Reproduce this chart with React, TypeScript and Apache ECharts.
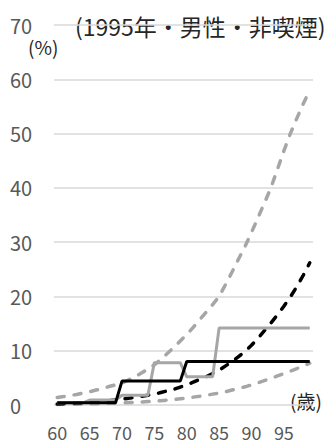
import React, { useEffect, useRef } from "react";
import * as echarts from "echarts";

// Ages 60–99 on the category axis
const ages: string[] = [
  "60", "61", "62", "63", "64", "65", "66", "67", "68", "69",
  "70", "71", "72", "73", "74", "75", "76", "77", "78", "79",
  "80", "81", "82", "83", "84", "85", "86", "87", "88", "89",
  "90", "91", "92", "93", "94", "95", "96", "97", "98", "99",
];

// Step series (%)
const blackStep: number[] = [
  0.4, 0.4, 0.4, 0.4, 0.4, 0.4, 0.4, 0.4, 0.4, 0.4,
  4.4, 4.4, 4.4, 4.4, 4.4, 4.4, 4.4, 4.4, 4.4, 4.4,
  8.0, 8.0, 8.0, 8.0, 8.0, 8.0, 8.0, 8.0, 8.0, 8.0,
  8.0, 8.0, 8.0, 8.0, 8.0, 8.0, 8.0, 8.0, 8.0, 8.0,
];

const grayStep: number[] = [
  0.4, 0.4, 0.4, 0.4, 0.4, 0.9, 0.9, 0.9, 0.9, 0.9,
  1.8, 1.8, 1.8, 1.8, 1.8, 7.8, 7.8, 7.8, 7.8, 7.8,
  5.2, 5.2, 5.2, 5.2, 5.2, 14.2, 14.2, 14.2, 14.2, 14.2,
  14.2, 14.2, 14.2, 14.2, 14.2, 14.2, 14.2, 14.2, 14.2, 14.2,
];

// Smooth curves (%)
const grayUpper: number[] = [
  1.4, 1.55, 1.75, 1.95, 2.2, 2.45, 2.75, 3.05, 3.4, 3.7,
  4.0, 4.6, 5.2, 5.9, 6.6, 7.4, 8.4, 9.5, 10.6, 11.8,
  13.0, 14.3, 15.7, 17.1, 18.5, 20.0, 22.2, 24.5, 26.9, 29.2,
  31.8, 34.5, 37.2, 40.0, 43.4, 46.8, 50.0, 52.8, 55.5, 58.0,
];

const blackCurve: number[] = [
  0.2, 0.25, 0.3, 0.35, 0.4, 0.5, 0.6, 0.7, 0.8, 0.95,
  1.1, 1.25, 1.4, 1.6, 1.8, 2.0, 2.3, 2.6, 2.9, 3.3,
  3.7, 4.2, 4.7, 5.2, 5.8, 6.4, 7.2, 8.0, 8.9, 9.9,
  11.0, 12.3, 13.7, 15.1, 16.6, 18.2, 19.9, 21.8, 23.9, 26.2,
];

const grayLower: number[] = [
  0.1, 0.12, 0.14, 0.16, 0.18, 0.2, 0.23, 0.27, 0.31, 0.35,
  0.4, 0.45, 0.5, 0.56, 0.63, 0.7, 0.8, 0.9, 1.0, 1.15,
  1.3, 1.45, 1.6, 1.8, 2.0, 2.2, 2.45, 2.75, 3.05, 3.35,
  3.7, 4.1, 4.5, 4.9, 5.35, 5.8, 6.25, 6.7, 7.2, 7.7,
];

const titleText = "(1995年・男性・非喫煙)";
const yUnit = "(%)";
const xUnit = "(歳)";

const GRAY = "#a6a6a6";
const BLACK = "#000000";
const FONT = "'Noto Sans CJK JP', 'Noto Sans', sans-serif";

const dashed = (color: string) => ({
  color,
  width: 3.5,
  type: [7, 10] as number[],
  cap: "round" as const,
});

export default function App() {
  const ref = useRef<HTMLDivElement>(null);

  useEffect(() => {
    document.body.style.margin = "0";
    if (!ref.current) return;
    const chart = echarts.init(ref.current, undefined, { renderer: "svg" });
    chart.setOption({
      animation: false,
      backgroundColor: "#ffffff",
      textStyle: { fontFamily: FONT },
      grid: { left: 54, right: 17, top: 25, bottom: 40, containLabel: false },
      xAxis: {
        type: "category",
        data: ages,
        boundaryGap: true,
        axisLine: { show: false },
        axisTick: { show: false },
        axisLabel: {
          interval: 4,
          color: "#595959",
          fontSize: 18,
          lineHeight: 18,
          fontFamily: FONT,
          margin: 18,
        },
        splitLine: { show: false },
      },
      yAxis: {
        type: "value",
        min: 0,
        max: 70,
        interval: 10,
        axisLine: { show: false },
        axisTick: { show: false },
        axisLabel: {
          color: "#595959",
          fontSize: 20,
          fontFamily: FONT,
          align: "left",
          margin: 44,
        },
        splitLine: { lineStyle: { color: "#d9d9d9", width: 1.5 } },
      },
      series: [
        { type: "line", data: grayUpper, showSymbol: false, lineStyle: dashed(GRAY) },
        { type: "line", data: grayLower, showSymbol: false, lineStyle: dashed(GRAY) },
        { type: "line", data: blackCurve, showSymbol: false, lineStyle: dashed(BLACK) },
        { type: "line", data: grayStep, showSymbol: false, lineStyle: { color: GRAY, width: 3 } },
        { type: "line", data: blackStep, showSymbol: false, lineStyle: { color: BLACK, width: 3 } },
      ],
      graphic: [
        {
          type: "text",
          left: 75,
          top: 14,
          style: { text: titleText, fill: "#262626", fontSize: 23, fontFamily: FONT },
        },
        {
          type: "text",
          left: 28,
          top: 37,
          style: { text: yUnit, fill: "#262626", fontSize: 19, fontFamily: FONT },
        },
        {
          type: "text",
          left: 290,
          top: 391,
          style: { text: xUnit, fill: "#262626", fontSize: 19, fontFamily: FONT },
        },
      ],
    });
    return () => chart.dispose();
  }, []);

  return <div ref={ref} style={{ width: 330, height: 445 }} />;
}
